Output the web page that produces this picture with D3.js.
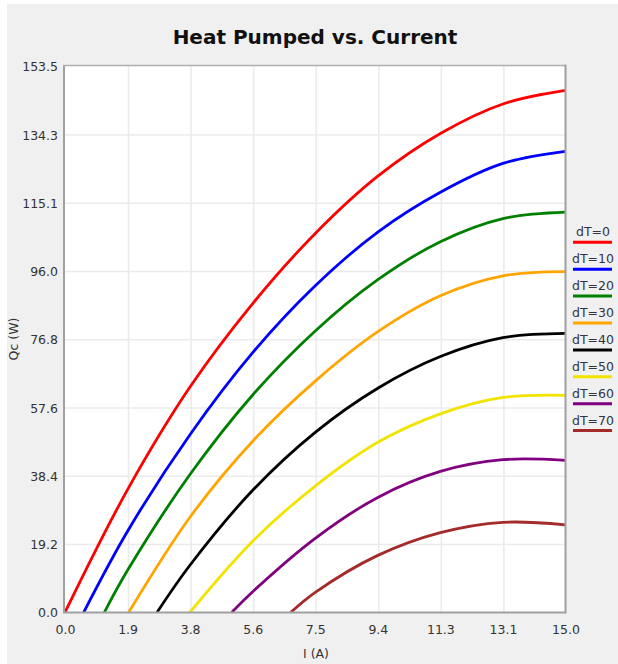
<!DOCTYPE html>
<html>
<head>
<meta charset="utf-8">
<script src="https://cdn.jsdelivr.net/npm/d3@7"></script>
<style>
  html, body { margin: 0; padding: 0; background: #ffffff; }
  svg { display: block; }
</style>
</head>
<body>
<svg id="chart" width="618" height="664"></svg>
<script>
// ---- data ----
const currents = [0, 1.875, 3.75, 5.625, 7.5, 9.375, 11.25, 13.125, 15];
const seriesNames = ["dT=0", "dT=10", "dT=20", "dT=30", "dT=40", "dT=50", "dT=60", "dT=70"];
const zeroCrossings = [0, 0.56, 1.18, 1.91, 2.76, 3.74, 5.0, 6.77];
const qcDT0  = [0, 34.5, 63.4, 86.8, 106.5, 122.6, 134.6, 142.9, 146.7];
const qcDT10 = [null, 22.8, 50.0, 73.0, 91.8, 106.9, 118.1, 126.2, 129.6];
const qcDT20 = [null, 11.8, 38.8, 61.1, 79.1, 93.5, 104.2, 110.7, 112.5];
const qcDT30 = [null, null, 26.8, 48.1, 65.0, 78.9, 89.0, 94.6, 95.8];
const qcDT40 = [null, null, 13.3, 34.3, 50.6, 63.0, 71.9, 77.2, 78.4];
const qcDT50 = [null, null, null, 20.0, 35.5, 47.8, 55.8, 60.4, 61.0];
const qcDT60 = [null, null, null, 5.8, 20.8, 32.3, 39.6, 42.9, 42.7];
const qcDT70 = [null, null, null, null, 5.6, 16.0, 22.4, 25.3, 24.6];
const xTickLabels = ["0.0", "1.9", "3.8", "5.6", "7.5", "9.4", "11.3", "13.1", "15.0"];
const yTickLabels = ["0.0", "19.2", "38.4", "57.6", "76.8", "96.0", "115.1", "134.3", "153.5"];
const xMax = 15;
const yMax = 153.5;

// ---- styles ----
const seriesColors = ["#ff0000", "#0000ff", "#008000", "#ffa500", "#000000", "#f2e300", "#800080", "#a52a2a"];
const allSeries = [qcDT0, qcDT10, qcDT20, qcDT30, qcDT40, qcDT50, qcDT60, qcDT70];

const svg = d3.select("#chart");
const W = 618, H = 664;

// panel background
svg.append("rect").attr("x", 7).attr("y", 4).attr("width", W - 7).attr("height", H - 4).attr("fill", "#f0f0f0");

const x = d3.scaleLinear().domain([0, xMax]).range([65, 565.5]);
const y = d3.scaleLinear().domain([0, yMax]).range([612.3, 66.3]);

// plot area
svg.append("rect").attr("x", x(0)).attr("y", y(yMax)).attr("width", x(xMax) - x(0)).attr("height", y(0) - y(yMax)).attr("fill", "#ffffff");

const xTickVals = xTickLabels.map((d, i) => i * xMax / (xTickLabels.length - 1));
const yTickVals = yTickLabels.map((d, i) => i * yMax / (yTickLabels.length - 1));

// gridlines
const grid = svg.append("g");
grid.selectAll("line.vx").data(xTickVals.slice(1, -1)).enter().append("line")
  .attr("x1", d => x(d) + 1).attr("x2", d => x(d) + 1)
  .attr("y1", y(yMax)).attr("y2", y(0))
  .attr("stroke", "#ebebeb").attr("stroke-width", 1.6);
grid.selectAll("line.hy").data(yTickVals.slice(1, -1)).enter().append("line")
  .attr("x1", x(0)).attr("x2", x(xMax))
  .attr("y1", d => y(d) + 0.5).attr("y2", d => y(d) + 0.5)
  .attr("stroke", "#ebebeb").attr("stroke-width", 1.6);

// axes (labels only, no tick marks)
const xAxis = d3.axisBottom(x).tickValues(xTickVals).tickSize(0).tickPadding(0)
  .tickFormat((d, i) => xTickLabels[i]);
const gx = svg.append("g").attr("transform", `translate(0, ${y(0)})`).call(xAxis);
gx.select(".domain").remove();
gx.selectAll("text").attr("dy", null).attr("y", 22)
  .attr("font-family", "DejaVu Sans").attr("font-size", 12.5).attr("fill", "#333333");

const yAxis = d3.axisLeft(y).tickValues(yTickVals).tickSize(0).tickPadding(0)
  .tickFormat((d, i) => yTickLabels[i]);
const gy = svg.append("g").attr("transform", `translate(${x(0) - 7}, 0)`).call(yAxis);
gy.select(".domain").remove();
gy.selectAll("text").attr("dy", "0.36em").attr("x", 0)
  .attr("font-family", "DejaVu Sans").attr("font-size", 12.5).attr("fill", "#333333");

// curves
const line = d3.line()
  .x(d => x(d[0])).y(d => y(d[1]))
  .curve(d3.curveCatmullRom.alpha(0.5));

svg.append("clipPath").attr("id", "plotclip").append("rect")
  .attr("x", x(0)).attr("y", y(yMax)).attr("width", x(xMax) - x(0)).attr("height", y(0) - y(yMax) + 1);

const curves = svg.append("g").attr("clip-path", "url(#plotclip)");
allSeries.forEach((vals, si) => {
  const pts = [[zeroCrossings[si], 0]];
  currents.forEach((c, i) => {
    if (vals[i] !== null && c > zeroCrossings[si]) pts.push([c, vals[i]]);
  });
  curves.append("path").datum(pts)
    .attr("d", line)
    .attr("fill", "none")
    .attr("stroke", seriesColors[si])
    .attr("stroke-width", 2.8)
    .attr("stroke-linejoin", "round");
});

// frame
const frame = svg.append("g");
frame.append("line").attr("x1", x(0) - 1).attr("x2", x(0) - 1).attr("y1", y(yMax) - 0.5).attr("y2", y(0) + 0.5)
  .attr("stroke", "#a0a0a0").attr("stroke-width", 2);
frame.append("line").attr("x1", x(0) - 2).attr("x2", x(xMax) + 0.5).attr("y1", y(0) + 0.3).attr("y2", y(0) + 0.3)
  .attr("stroke", "#a0a0a0").attr("stroke-width", 2);
frame.append("line").attr("x1", x(0) - 2).attr("x2", x(xMax) + 0.5).attr("y1", y(yMax) - 0.7).attr("y2", y(yMax) - 0.7)
  .attr("stroke", "#b0b0b0").attr("stroke-width", 1.5);
frame.append("line").attr("x1", x(xMax)).attr("x2", x(xMax)).attr("y1", y(yMax) - 1.5).attr("y2", y(0) + 1)
  .attr("stroke", "#a0a0a0").attr("stroke-width", 2);

// title
svg.append("text").attr("x", 315).attr("y", 44).attr("text-anchor", "middle")
  .attr("font-family", "DejaVu Sans").attr("font-weight", "bold").attr("font-size", 20)
  .attr("fill", "#111").text("Heat Pumped vs. Current");

// axis titles
svg.append("text").attr("x", 316).attr("y", 658).attr("text-anchor", "middle")
  .attr("font-family", "DejaVu Sans").attr("font-size", 12.5).attr("fill", "#333333").text("I (A)");
svg.append("text").attr("transform", "translate(18, 339) rotate(-90)").attr("text-anchor", "middle")
  .attr("font-family", "DejaVu Sans").attr("font-size", 12.5).attr("fill", "#333333").text("Qc (W)");

// legend
const legend = svg.append("g");
seriesNames.forEach((name, i) => {
  const ly = 242.3 + i * 26.9;
  legend.append("text").attr("x", 593).attr("y", ly - 6).attr("text-anchor", "middle")
    .attr("font-family", "DejaVu Sans").attr("font-size", 12.5).attr("fill", "#333344").text(name);
  legend.append("line").attr("x1", 573).attr("x2", 612).attr("y1", ly).attr("y2", ly)
    .attr("stroke", seriesColors[i]).attr("stroke-width", 3);
});
</script>
</body>
</html>
